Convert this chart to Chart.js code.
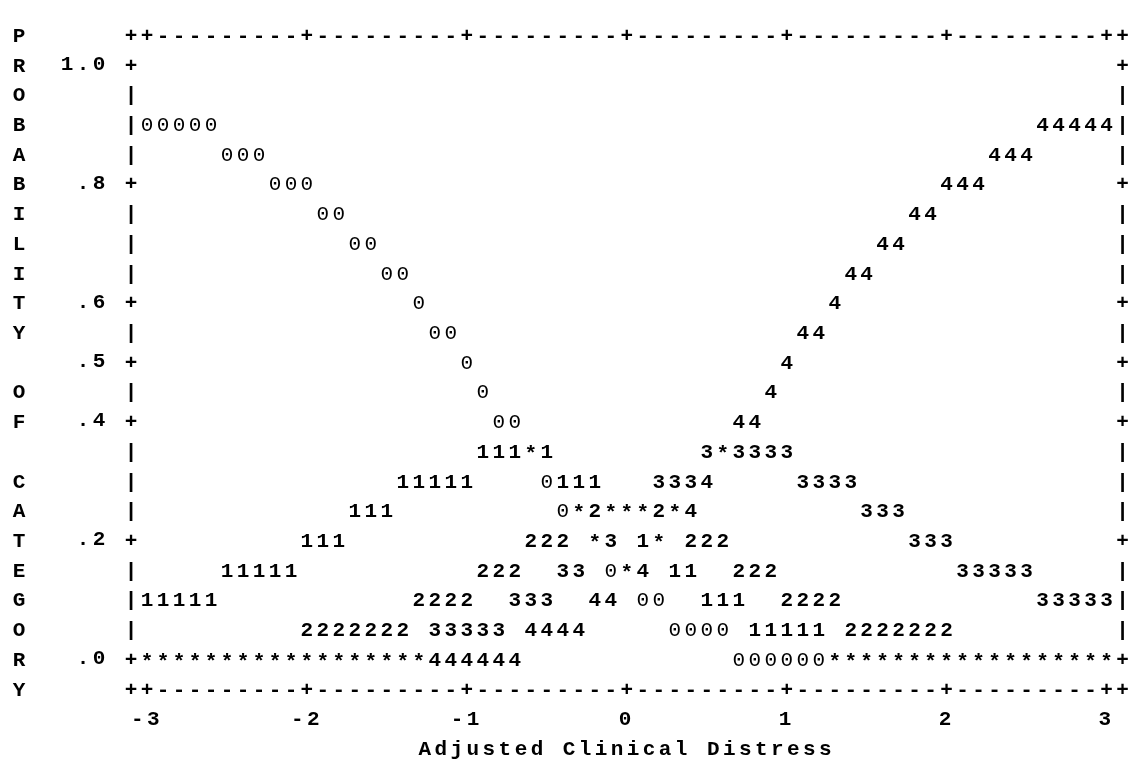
<!DOCTYPE html>
<html>
<head>
<meta charset="utf-8">
<script src="https://cdn.jsdelivr.net/npm/chart.js@4/dist/chart.umd.min.js"></script>
<style>
html,body{margin:0;padding:0;background:#fff;}
#wrap{width:1132px;height:760px;}
</style>
</head>
<body>
<div id="wrap"><canvas id="c" width="1132" height="760"></canvas></div>
<script>
// ---- data ----
const xValues = [-3.0,-2.9,-2.8,-2.7,-2.6,-2.5,-2.4,-2.3,-2.2,-2.1,-2.0,-1.9,-1.8,-1.7,-1.6,-1.5,-1.4,-1.3,-1.2,-1.1,
  -1.0,-0.9,-0.8,-0.7,-0.6,-0.5,-0.4,-0.3,-0.2,-0.1,0.0,0.1,0.2,0.3,0.4,0.5,0.6,0.7,0.8,0.9,
  1.0,1.1,1.2,1.3,1.4,1.5,1.6,1.7,1.8,1.9,2.0,2.1,2.2,2.3,2.4,2.5,2.6,2.7,2.8,2.9,3.0];

const categoryLabels = ['0','1','2','3','4'];

const probCat0 = [.90,.90,.90,.90,.90,.85,.85,.85,.80,.80,.80,.75,.75,.70,.70,.65,.65,.60,.55,.55,
  .50,.45,.40,.40,.35,.30,.25,.25,.20,.15,.15,.10,.10,.05,.05,.05,.05,0,0,0,
  0,0,0,0,0,0,0,0,0,0,0,0,0,0,0,0,0,0,0,0,0];
const probCat1 = [.10,.10,.10,.10,.10,.15,.15,.15,.15,.15,.20,.20,.20,.25,.25,.25,.30,.30,.30,.30,
  .30,.35,.35,.35,.35,.35,.30,.30,.30,.25,.25,.20,.20,.15,.15,.10,.10,.10,.05,.05,
  .05,.05,.05,0,0,0,0,0,0,0,0,0,0,0,0,0,0,0,0,0,0];
const probCat2 = [0,0,0,0,0,0,0,0,0,0,.05,.05,.05,.05,.05,.05,.05,.10,.10,.10,
  .10,.15,.15,.15,.20,.20,.20,.25,.25,.25,.25,.25,.25,.25,.20,.20,.20,.15,.15,.15,
  .10,.10,.10,.10,.05,.05,.05,.05,.05,.05,.05,0,0,0,0,0,0,0,0,0,0];
const probCat3 = [0,0,0,0,0,0,0,0,0,0,0,0,0,0,0,0,0,0,.05,.05,
  .05,.05,.05,.10,.10,.10,.15,.15,.20,.20,.25,.25,.30,.30,.30,.35,.35,.35,.35,.35,
  .35,.30,.30,.30,.30,.25,.25,.25,.20,.20,.20,.15,.15,.15,.15,.15,.10,.10,.10,.10,.10];
const probCat4 = [0,0,0,0,0,0,0,0,0,0,0,0,0,0,0,0,0,0,0,0,
  0,0,0,0,.05,.05,.05,.05,.10,.10,.15,.15,.20,.25,.25,.30,.35,.40,.40,.45,
  .50,.55,.55,.60,.65,.65,.70,.70,.75,.75,.80,.80,.80,.85,.85,.85,.90,.90,.90,.90,.90];

const xTickValues = [-3,-2,-1,0,1,2,3];
const xTickLabels = ['-3','-2','-1','0','1','2','3'];
const yTickValues = [1.0,0.8,0.6,0.5,0.4,0.2,0.0];
const yTickLabels = ['1.0','.8','.6','.5','.4','.2','.0'];

const xTitle = 'Adjusted Clinical Distress';
const yTitle = 'PROBABILITY OF CATEGORY';

// ---- styling ----
const FONT = '"Liberation Mono", "DejaVu Sans Mono", monospace';
const FS = 21;
const LS = 16.02 - 0.6 * FS;      // letter spacing to reach the reference column pitch
const BASE = 0.659 * FS / 2;      // baseline offset so glyph centre sits on row centre

const series = [probCat0, probCat1, probCat2, probCat3, probCat4];

const asciiPlugin = {
  id: 'ascii',
  beforeDraw(chart) {
    chart.ctx.letterSpacing = LS + 'px';
  },
  afterDatasetsDraw(chart) {
    const ctx = chart.ctx;
    const xs = chart.scales.x, ys = chart.scales.y;
    const area = chart.chartArea;
    ctx.save();
    ctx.letterSpacing = '0px';
    ctx.fillStyle = '#000';
    ctx.textAlign = 'center';
    ctx.textBaseline = 'alphabetic';
    const bold = 'bold ' + FS + 'px ' + FONT;
    const norm = 'normal ' + FS + 'px ' + FONT;

    // data symbols, collisions shown as '*'
    const cells = new Map();
    chart.data.datasets.forEach((ds, di) => {
      const meta = chart.getDatasetMeta(di);
      meta.data.forEach(pt => {
        const key = Math.round(pt.x) + ',' + Math.round(pt.y);
        if (!cells.has(key)) cells.set(key, {x: pt.x, y: pt.y, syms: new Set()});
        cells.get(key).syms.add(ds.label);
      });
    });
    cells.forEach(cell => {
      const ch = cell.syms.size > 1 ? '*' : [...cell.syms][0];
      ctx.font = ch === '0' ? norm : bold;
      ctx.fillText(ch, cell.x, cell.y + BASE + (ch === '*' ? 2 : 0));
    });

    // ASCII frame
    ctx.font = bold;
    const colW = xs.getPixelForValue(0.1) - xs.getPixelForValue(0);
    const top = area.top, bottom = area.bottom;
    const nRows = Math.round((ys.max - ys.min) / 0.05);
    const rowH = (bottom - top) / nRows;
    const nCols = Math.round((xs.max - xs.min) / 0.1);
    for (let c = 0; c <= nCols; c++) {
      const px = area.left + c * colW;
      const v = xs.getValueForPixel(px);
      const isTick = c === 0 || c === nCols || xTickValues.some(t => Math.abs(t - v) < 0.02);
      const ch = isTick ? '+' : '-';
      ctx.fillText(ch, px, top + BASE);
      ctx.fillText(ch, px, bottom + BASE);
    }
    for (let r = 1; r < nRows; r++) {
      const py = top + r * rowH;
      const v = ys.getValueForPixel(py);
      const ch = yTickValues.some(t => Math.abs(t - v) < 0.01) ? '+' : '|';
      ctx.fillText(ch, area.left, py + BASE);
      ctx.fillText(ch, area.right, py + BASE);
    }
    // vertical y-axis title, one letter per row
    const tx = area.left - 7 * colW;
    for (let r = 0; r < yTitle.length; r++) {
      const ch = yTitle[r];
      if (ch !== ' ') ctx.fillText(ch, tx, top + r * rowH + BASE);
    }
    ctx.restore();
  }
};

new Chart(document.getElementById('c'), {
  type: 'scatter',
  data: {
    datasets: series.map((vals, i) => ({
      label: categoryLabels[i],
      data: xValues.map((x, j) => ({x: x, y: vals[j]})),
      pointRadius: 0,
      pointHoverRadius: 0,
      showLine: false
    }))
  },
  options: {
    responsive: false,
    devicePixelRatio: 1,
    animation: false,
    events: [],
    layout: { padding: { left: 0, right: 8, top: 23.3, bottom: 0 } },
    plugins: { legend: { display: false }, tooltip: { enabled: false } },
    scales: {
      x: {
        type: 'linear',
        min: -3.1, max: 3.1,
        grid: { display: false, drawTicks: false },
        border: { display: false },
        afterBuildTicks: s => { s.ticks = xTickValues.map(v => ({ value: v })); },
        afterFit: s => { s.height = 71.4; },
        ticks: {
          autoSkip: false, maxRotation: 0, padding: 19, color: '#000',
          font: { family: FONT, size: FS, weight: 'bold' },
          callback: (v) => xTickLabels[xTickValues.indexOf(v)]
        },
        title: {
          display: true, text: xTitle, color: '#000',
          padding: { top: 0, bottom: 0 },
          font: { family: FONT, size: FS, weight: 'bold', lineHeight: 1.0 }
        }
      },
      y: {
        type: 'linear',
        min: -0.05, max: 1.05,
        grid: { display: false, drawTicks: false },
        border: { display: false },
        afterBuildTicks: s => { s.ticks = yTickValues.map(v => ({ value: v })); },
        afterFit: s => { s.width = 131; },
        ticks: {
          autoSkip: false, padding: 22.3, color: '#000',
          font: { family: FONT, size: FS, weight: 'bold' },
          callback: (v) => yTickLabels[yTickValues.indexOf(v)]
        }
      }
    }
  },
  plugins: [asciiPlugin]
});
</script>
</body>
</html>
